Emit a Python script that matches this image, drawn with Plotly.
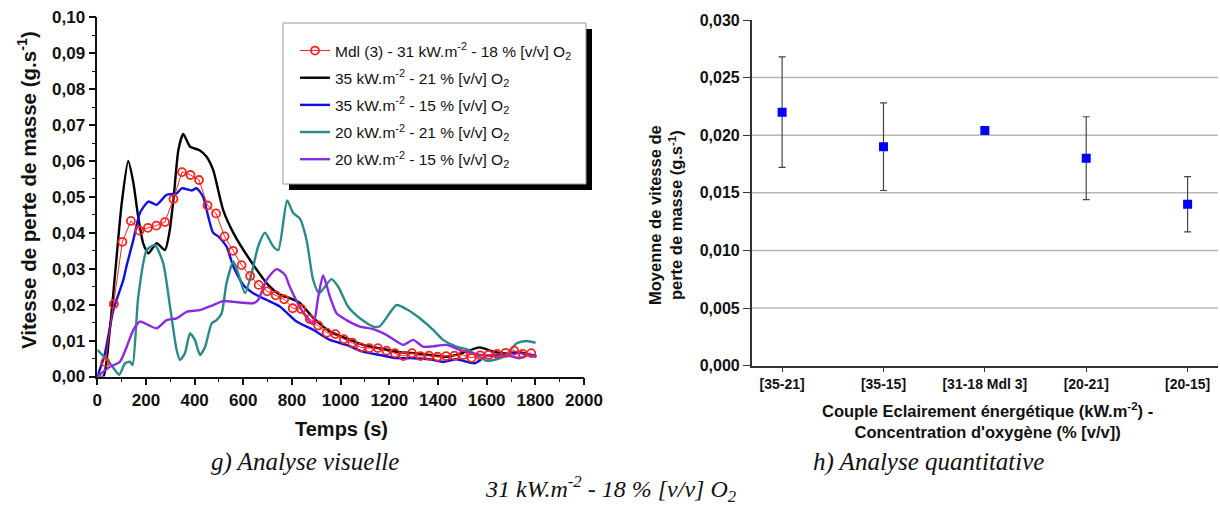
import plotly.graph_objects as go

W, H = 1220, 506

# ---------------- data: left chart (time in s, mass loss rate in g/s) ----------------
t_mdl = [33, 68, 103, 138, 173, 208, 243, 278, 313, 348, 383, 418, 453, 488, 523, 558, 593, 628,
         663, 698, 733, 768, 803, 838, 873, 908, 943, 978, 1013, 1048, 1083, 1118, 1153, 1188,
         1223, 1258, 1293, 1328, 1363, 1398, 1433, 1468, 1503, 1538, 1573, 1608, 1643, 1678,
         1713, 1748, 1783]
v_mdl = [0.004, 0.0202, 0.0375, 0.0433, 0.0406, 0.0414, 0.042, 0.043, 0.0494, 0.0569, 0.0561,
         0.0547, 0.0476, 0.0454, 0.039, 0.035, 0.031, 0.028, 0.0255, 0.0237, 0.0226, 0.0215,
         0.019, 0.0188, 0.016, 0.0142, 0.0122, 0.0118, 0.0104, 0.0094, 0.0081, 0.0079, 0.0079,
         0.0072, 0.0065, 0.0057, 0.0065, 0.0057, 0.0058, 0.0055, 0.0057, 0.0058, 0.006, 0.0052,
         0.0059, 0.006, 0.0063, 0.0066, 0.0072, 0.0063, 0.0065]

t_35_21 = [0, 25, 50, 75, 100, 127, 148, 168, 189, 210, 244, 278, 296, 314, 333, 353, 381, 420,
           449, 476, 517, 559, 627, 709, 750, 791, 832, 888, 956, 1024, 1092, 1161, 1230, 1298,
           1366, 1435, 1490, 1572, 1627, 1681, 1736, 1804]
v_35_21 = [0, 0.0, 0.012, 0.03, 0.048, 0.060, 0.054, 0.0445, 0.037, 0.0343, 0.0371, 0.0352,
           0.040, 0.050, 0.063, 0.0675, 0.064, 0.063, 0.0612, 0.0575, 0.0464, 0.040, 0.0325,
           0.025, 0.0228, 0.0218, 0.0205, 0.0163, 0.0125, 0.0106, 0.0088, 0.0078, 0.0069,
           0.0065, 0.006, 0.0055, 0.0063, 0.0081, 0.0069, 0.0064, 0.0067, 0.0057]

t_35_15 = [0, 30, 66, 107, 121, 148, 175, 210, 244, 285, 326, 347, 388, 408, 435, 456, 476, 497,
           531, 559, 600, 641, 696, 750, 819, 887, 956, 1024, 1092, 1161, 1230, 1298, 1366, 1421,
           1476, 1551, 1599, 1654, 1708, 1763, 1804]
v_35_15 = [0, 0.006, 0.0185, 0.0269, 0.031, 0.038, 0.0455, 0.0487, 0.0478, 0.0506, 0.051,
           0.0524, 0.0518, 0.0524, 0.050, 0.0445, 0.040, 0.039, 0.0362, 0.0306, 0.0255, 0.0232,
           0.0213, 0.0195, 0.0153, 0.013, 0.0102, 0.0088, 0.0069, 0.006, 0.0051, 0.0051, 0.0048,
           0.0041, 0.0048, 0.0037, 0.0057, 0.006, 0.0066, 0.0063, 0.0055]

t_20_21 = [0, 52, 90, 114, 134, 145, 168, 203, 237, 271, 299, 326, 340, 360, 381, 401, 422, 443,
           470, 490, 511, 531, 559, 579, 607, 634, 661, 689, 723, 744, 780, 805, 832, 860, 887,
           912, 962, 990, 1031, 1079, 1134, 1161, 1230, 1277, 1325, 1380, 1421, 1476, 1517, 1558,
           1599, 1640, 1681, 1722, 1763, 1801]
v_20_21 = [0.0074, 0.0037, 0.0005, 0.0037, 0.0041, 0.0032, 0.022, 0.0352, 0.0366, 0.0315,
           0.0194, 0.0074, 0.0046, 0.0065, 0.012, 0.0102, 0.006, 0.0083, 0.0148, 0.0157, 0.0176,
           0.026, 0.032, 0.0287, 0.0232, 0.0287, 0.0362, 0.040, 0.0362, 0.0352, 0.049, 0.0455,
           0.044, 0.038, 0.0269, 0.0232, 0.0271, 0.025, 0.0194, 0.0162, 0.0139, 0.014, 0.0199,
           0.0185, 0.0162, 0.013, 0.0102, 0.0083, 0.0076, 0.006, 0.0044, 0.0048, 0.006, 0.0092,
           0.0099, 0.0094]

t_20_15 = [0, 52, 93, 121, 148, 175, 210, 244, 285, 326, 367, 422, 476, 517, 559, 641, 661, 696,
           737, 771, 791, 832, 873, 888, 908, 928, 956, 983, 1024, 1079, 1134, 1188, 1257, 1298,
           1339, 1380, 1435, 1490, 1517, 1572, 1640, 1695, 1736, 1770, 1804]
v_20_15 = [0, 0.0027, 0.0041, 0.0083, 0.013, 0.0153, 0.0143, 0.0134, 0.0157, 0.0162, 0.018,
           0.0185, 0.0199, 0.021, 0.0208, 0.0204, 0.0213, 0.0269, 0.0299, 0.0283, 0.025, 0.0194,
           0.0153, 0.0145, 0.0222, 0.0281, 0.0222, 0.0176, 0.0157, 0.0139, 0.0132, 0.0116,
           0.0088, 0.0102, 0.0083, 0.0084, 0.0088, 0.0074, 0.0069, 0.006, 0.0057, 0.0057, 0.0051,
           0.006, 0.0055]

series_names = [
    "Mdl (3) - 31 kW.m<sup>-2</sup> - 18 % [v/v] O<sub>2</sub>",
    "35 kW.m<sup>-2</sup> - 21 % [v/v] O<sub>2</sub>",
    "35 kW.m<sup>-2</sup> - 15 % [v/v] O<sub>2</sub>",
    "20 kW.m<sup>-2</sup> - 21 % [v/v] O<sub>2</sub>",
    "20 kW.m<sup>-2</sup> - 15 % [v/v] O<sub>2</sub>",
]

# ---------------- data: right chart ----------------
categories = ["[35-21]", "[35-15]", "[31-18 Mdl 3]", "[20-21]", "[20-15]"]
mean_rate = [0.0220, 0.0190, 0.0204, 0.0180, 0.0140]
err_plus = [0.0048, 0.0038, 0.0, 0.0036, 0.0024]
err_minus = [0.0048, 0.0038, 0.0, 0.0036, 0.0024]

left_yticks = [0.00, 0.01, 0.02, 0.03, 0.04, 0.05, 0.06, 0.07, 0.08, 0.09, 0.10]
right_yticks = [0.000, 0.005, 0.010, 0.015, 0.020, 0.025, 0.030]

SANS = "Liberation Sans"
SERIF = "Liberation Serif"


def px(x):
    return x / W


def py(y):
    return 1 - y / H


fig = go.Figure()

line_specs = [
    (t_35_21, v_35_21, "#000000", series_names[1]),
    (t_35_15, v_35_15, "#1010e0", series_names[2]),
    (t_20_21, v_20_21, "#2a8a8a", series_names[3]),
    (t_20_15, v_20_15, "#8a2be2", series_names[4]),
]

for i, (tt, vv, col, nm) in enumerate(line_specs):
    fig.add_trace(go.Scatter(
        x=tt, y=vv, name=nm, mode="lines",
        line=dict(color=col, width=2.4, shape="spline", smoothing=0.6),
        legendgroup="g%d" % (i + 1), legendrank=i + 2, xaxis="x", yaxis="y"))

fig.add_trace(go.Scatter(
    x=t_mdl, y=v_mdl, name=series_names[0], mode="lines+markers",
    line=dict(color="#ff2020", width=1),
    marker=dict(symbol="circle-open", size=8, color="#ff2020", line=dict(width=1.8)),
    legendgroup="g0", legendrank=1, xaxis="x", yaxis="y"))

fig.add_trace(go.Scatter(
    x=categories, y=mean_rate, mode="markers", showlegend=False,
    marker=dict(symbol="square", size=9, color="#0000ff"),
    error_y=dict(type="data", array=err_plus, arrayminus=err_minus, color="#444444",
                 thickness=1.2, width=3.5),
    xaxis="x2", yaxis="y2"))

bold = dict(family=SANS, weight="bold", color="#111111")

fig.update_layout(
    template="none",
    width=W, height=H,
    margin=dict(l=0, r=0, t=0, b=0, autoexpand=False),
    paper_bgcolor="white", plot_bgcolor="white",
    separators=", ",
    showlegend=True,
    legend=dict(x=px(295), y=py(34), xanchor="left", yanchor="top",
                bgcolor="rgba(0,0,0,0)", borderwidth=0,
                font=dict(family=SANS, size=15.5, color="#111111"),
                traceorder="grouped", tracegroupgap=4),
    xaxis=dict(domain=[px(97.3), px(584)], range=[0, 2000], dtick=200, tickformat="d",
               ticks="outside", ticklen=7, tickwidth=1.5, tickcolor="#111",
               minor=dict(dtick=100, ticks="outside", ticklen=4, tickwidth=1.2, tickcolor="#111"),
               showline=True, linecolor="#111", linewidth=1.5, showgrid=False, zeroline=False,
               automargin=False, tickfont=dict(size=17, **bold), anchor="y"),
    yaxis=dict(domain=[py(376.5), py(17.3)], range=[0, 0.10], tickvals=left_yticks,
               tickformat=".2f",
               ticks="outside", ticklen=7, tickwidth=1.5, tickcolor="#111",
               minor=dict(dtick=0.005, ticks="outside", ticklen=4, tickwidth=1.2, tickcolor="#111"),
               showline=True, linecolor="#111", linewidth=1.5, showgrid=False, zeroline=False,
               automargin=False, tickfont=dict(size=17, **bold), anchor="x"),
    xaxis2=dict(domain=[px(751.7), px(1218)], range=[-0.3, 4.3], type="category",
                ticks="outside", ticklen=5, tickwidth=1, tickcolor="#333",
                showline=True, linecolor="#333", linewidth=1.5, showgrid=False, zeroline=False,
                automargin=False, tickfont=dict(size=14, **bold), anchor="y2"),
    yaxis2=dict(domain=[py(365.6), py(20)], range=[0, 0.030], tickvals=right_yticks,
                tickformat=".3f",
                ticks="outside", ticklen=7, tickwidth=1, tickcolor="#333",
                showline=True, linecolor="#333", linewidth=1.5, showgrid=False, zeroline=False,
                automargin=False, tickfont=dict(size=16, **bold), anchor="x2"),
)

shapes = []
# right chart grid lines (tick values strictly inside the range)
for v in right_yticks[1:-1]:
    shapes.append(dict(type="line", xref="x2 domain", yref="y2", x0=0, x1=1, y0=v, y1=v,
                       line=dict(color="#b8b8b8", width=1.5), layer="below"))
# legend box with shadow
shapes.append(dict(type="rect", xref="paper", yref="paper", x0=px(289), x1=px(592),
                   y0=py(190), y1=py(29), fillcolor="black", line=dict(width=0), layer="above"))
shapes.append(dict(type="rect", xref="paper", yref="paper", x0=px(283), x1=px(586),
                   y0=py(184), y1=py(23), fillcolor="white",
                   line=dict(color="#9a9a9a", width=1), layer="above"))
fig.update_layout(shapes=shapes)

annotations = [
    dict(text="Temps (s)", x=px(341), y=py(429), font=dict(size=20, **bold)),
    dict(text="Vitesse de perte de masse (g.s<sup>-1</sup>)", x=px(27), y=py(190),
         textangle=-90, font=dict(size=20.5, **bold)),
    dict(text="Moyenne de vitesse de<br>perte de masse (g.s<sup>-1</sup>)", x=px(665), y=py(215),
         textangle=-90, font=dict(size=16.5, **bold)),
    dict(text="Couple Eclairement énergétique (kW.m<sup>-2</sup>) -<br>Concentration d'oxygène (% [v/v])",
         x=px(987), y=py(420), font=dict(size=16.5, **bold)),
    dict(text="<i>g) Analyse visuelle</i>", x=px(305), y=py(462),
         font=dict(family=SERIF, size=25, color="#111")),
    dict(text="<i>h) Analyse quantitative</i>", x=px(928), y=py(462),
         font=dict(family=SERIF, size=25, color="#111")),
    dict(text="<i>31 kW.m<sup>-2</sup> - 18 % [v/v] O<sub>2</sub></i>", x=px(611), y=py(489),
         font=dict(family=SERIF, size=24, color="#111")),
]
for a in annotations:
    a.update(xref="paper", yref="paper", showarrow=False, xanchor="center", yanchor="middle")
fig.update_layout(annotations=annotations)

fig.write_html("out.html", config={"displayModeBar": False},
               post_script="document.body.style.margin='0px';")
